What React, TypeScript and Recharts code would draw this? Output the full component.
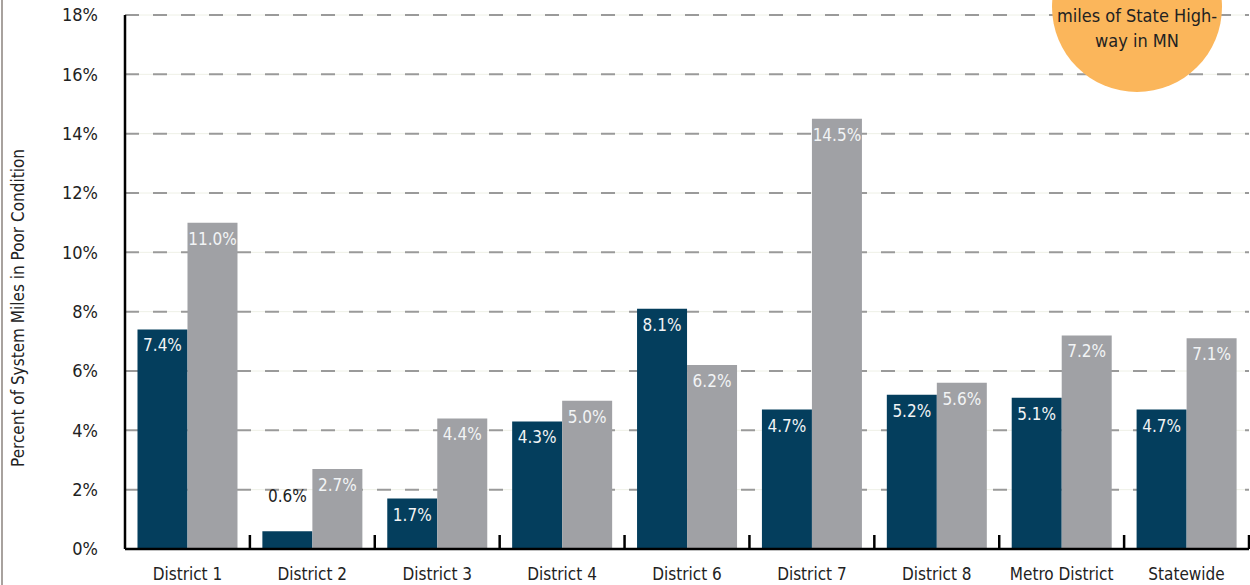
import React from "react";
import {
  BarChart,
  Bar,
  XAxis,
  YAxis,
  CartesianGrid,
  LabelList,
} from "recharts";

const categories = [
  "District 1",
  "District 2",
  "District 3",
  "District 4",
  "District 6",
  "District 7",
  "District 8",
  "Metro District",
  "Statewide",
];
const currentValues = [7.4, 0.6, 1.7, 4.3, 8.1, 4.7, 5.2, 5.1, 4.7];
const futureValues = [11.0, 2.7, 4.4, 5.0, 6.2, 14.5, 5.6, 7.2, 7.1];
const yTicks = [0, 2, 4, 6, 8, 10, 12, 14, 16, 18];

const data = categories.map((name, i) => ({
  name,
  current: currentValues[i],
  future: futureValues[i],
}));

const CHART_W = 1250;
const CHART_H = 585;
const AXIS_W = 125;
const BAND = (CHART_W - AXIS_W - 1) / categories.length;
const FONT = "'DejaVu Sans Condensed', 'Liberation Sans Narrow', 'Roboto', sans-serif";

const XTick = (props: any) => {
  const { x, y, payload } = props;
  return (
    <g>
      <line x1={x + BAND / 2} x2={x + BAND / 2} y1={y} y2={y - 14} stroke="#000" strokeWidth={2.5} />
      <text x={x} y={y + 25} textAnchor="middle" dominantBaseline="central" fill="#222" fontSize={17}>
        {payload.value}
      </text>
    </g>
  );
};

const BarLabel = (props: any) => {
  const { x, y, width, value } = props;
  const txt = Number(value).toFixed(1) + "%";
  if (value < 1) {
    return (
      <text x={x + width / 2} y={y - 35} textAnchor="middle" dominantBaseline="central" fill="#222" fontSize={17}>
        {txt}
      </text>
    );
  }
  return (
    <text x={x + width / 2} y={y + 16} textAnchor="middle" dominantBaseline="central" fill="#f2f4f5" fontSize={17}>
      {txt}
    </text>
  );
};

const YLabel = () => (
  <text
    x={18}
    y={308}
    transform="rotate(-90 18 308)"
    textAnchor="middle"
    dominantBaseline="central"
    fill="#222"
    fontSize={17}
  >
    Percent of System Miles in Poor Condition
  </text>
);

export default function App() {
  return (
    <div
      style={{
        position: "absolute",
        left: 0,
        top: 0,
        width: CHART_W,
        height: CHART_H,
        overflow: "hidden",
        background: "#fff",
        fontFamily: FONT,
      }}
    >
      <BarChart
        width={CHART_W}
        height={CHART_H}
        data={data}
        margin={{ top: 15, right: 1, left: 0, bottom: 0 }}
        barCategoryGap="10%"
        barGap={0}
      >
        <CartesianGrid vertical={false} stroke="#eef0e6" strokeWidth={1} />
        <CartesianGrid vertical={false} stroke="#9a9a9a" strokeWidth={2} strokeDasharray="14 14" />
        <XAxis
          dataKey="name"
          height={36}
          interval={0}
          axisLine={{ stroke: "#000", strokeWidth: 2.5 }}
          tickLine={false}
          tickSize={0}
          tickMargin={0}
          tick={<XTick />}
        />
        <YAxis
          width={AXIS_W}
          domain={[0, 18]}
          ticks={yTicks}
          tickFormatter={(v: number) => v + "%"}
          axisLine={{ stroke: "#000", strokeWidth: 2.5 }}
          tickLine={false}
          tickSize={0}
          tickMargin={27}
          tick={{ fill: "#222", fontSize: 18 }}
          label={{ content: <YLabel /> }}
        />
        <Bar dataKey="current" fill="#043e5d" isAnimationActive={false}>
          <LabelList dataKey="current" content={<BarLabel />} />
        </Bar>
        <Bar dataKey="future" fill="#a0a1a5" isAnimationActive={false}>
          <LabelList dataKey="future" content={<BarLabel />} />
        </Bar>
      </BarChart>
      <div
        style={{
          position: "absolute",
          left: 1,
          top: 0,
          width: 2,
          height: CHART_H,
          background: "#a8a29e",
        }}
      />
      <div
        style={{
          position: "absolute",
          left: 1052,
          top: -78,
          width: 170,
          height: 170,
          borderRadius: "50%",
          background: "#fbb65b",
        }}
      />
      <div
        style={{
          position: "absolute",
          left: 1052,
          top: 3,
          width: 170,
          textAlign: "center",
          fontSize: 18,
          lineHeight: "25px",
          whiteSpace: "nowrap",
          color: "#222",
        }}
      >
        miles of State High-
        <br />
        way in MN
      </div>
    </div>
  );
}
